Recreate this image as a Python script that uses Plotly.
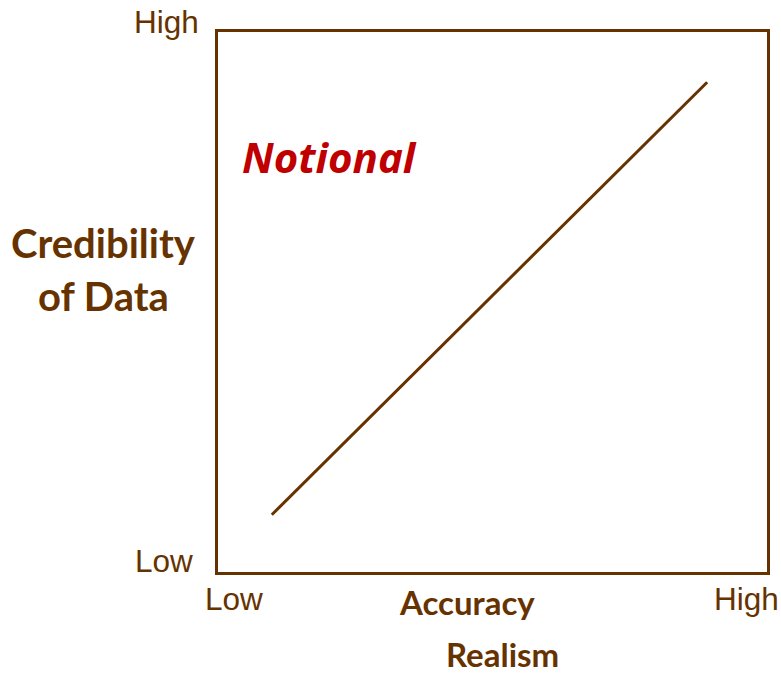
import plotly.graph_objects as go

# notional trend: accuracy/realism vs credibility of data
accuracy = [0.098, 0.891]
credibility = [0.106, 0.907]

brown = "#663300"
red = "#C00000"

fig = go.Figure()

fig.add_trace(go.Scatter(
    x=accuracy,
    y=credibility,
    mode="lines",
    line=dict(color=brown, width=3),
    showlegend=False,
    hoverinfo="skip",
))

axis_style = dict(
    range=[0, 1],
    showgrid=False,
    zeroline=False,
    showticklabels=False,
    ticks="",
    showline=True,
    linecolor=brown,
    linewidth=3,
    mirror=True,
    fixedrange=True,
)

fig.update_layout(
    width=781,
    height=673,
    margin=dict(l=218, r=14, t=32, b=101),
    plot_bgcolor="white",
    paper_bgcolor="white",
    xaxis=axis_style,
    yaxis=axis_style,
)

small = dict(family="Liberation Sans, Arial, sans-serif", size=31.5, color=brown)
bold = dict(family="Lato, sans-serif", size=33, color=brown, weight="bold")
big = dict(family="Lato, sans-serif", size=40, color=brown, weight="bold")

annotations = [
    # y-axis labels
    dict(text="High", x=-0.031, y=1.019, xanchor="right", font=small),
    dict(text="Low", x=-0.042, y=0.020, xanchor="right", font=small),
    # x-axis labels
    dict(text="Low", x=0.029, y=-0.05, xanchor="center", font=small),
    dict(text="High", x=0.962, y=-0.05, xanchor="center", font=small),
    # titles
    dict(text="Accuracy", x=0.454, y=-0.055, xanchor="center", font=bold),
    dict(text="Realism", x=0.519, y=-0.151, xanchor="center", font=bold),
    dict(text="Credibility", x=-0.209, y=0.609, xanchor="center", font=big),
    dict(text="of Data", x=-0.209, y=0.511, xanchor="center", font=big),
    dict(text="Not\u200cional", x=0.040, y=0.769, xanchor="left",
         font=dict(family="Open Sans, sans-serif", size=42, color=red,
                   weight="bold", style="italic")),
]
for a in annotations:
    a["xref"] = "paper"
    a["yref"] = "paper"
    a.setdefault("yanchor", "middle")
    a["showarrow"] = False
    fig.add_annotation(**a)

# drop the default body margin so the figure fills the window exactly
fig.write_html(
    "out.html",
    config={"displayModeBar": False},
    post_script="document.body.style.margin='0';",
)
